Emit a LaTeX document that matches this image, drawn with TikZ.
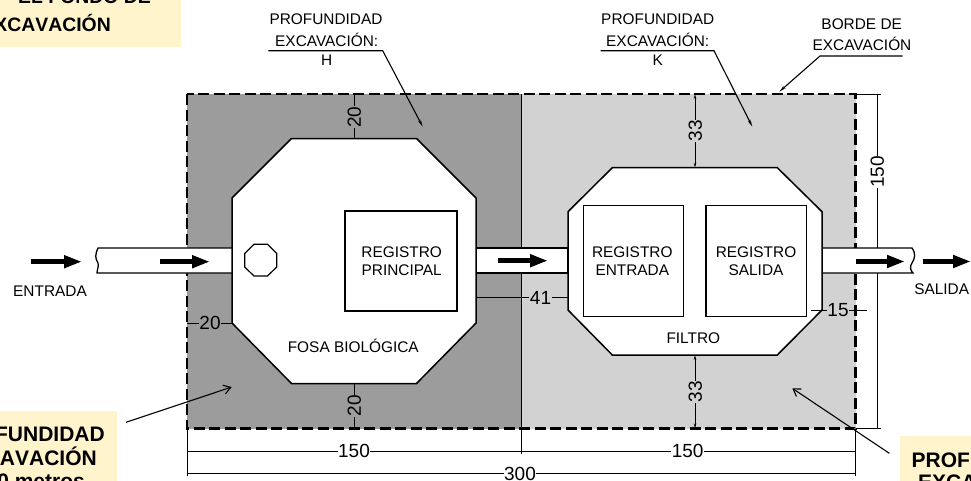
\documentclass[tikz,border=0pt]{standalone}
\usepackage{fontspec}
\setmainfont{Liberation Sans}
\newfontfamily\notefont[Kerning=Off]{Liberation Sans}
\usetikzlibrary{arrows.meta}
\definecolor{pit dark}{HTML}{9C9C9C}
\definecolor{pit light}{HTML}{D2D2D2}
\definecolor{note yellow}{HTML}{FFF4CC}
\tikzset{
% Node styles for the plan: plain labels, dimension figures, registers
plain text/.style={inner sep=0,font=\fontsize{15.4}{18.5}\selectfont,text height=11,text depth=0},
two lines/.style={inner sep=0,align=center,font=\fontsize{15.4}{18.5}\selectfont},
dim text/.style={inner sep=0.6,font=\fontsize{19}{20}\selectfont,text height=13.6,text depth=0},
note text/.style={inner sep=0,font=\notefont\fontsize{21}{24}\selectfont\bfseries},
top note/.style={inner sep=0,font=\notefont\fontsize{19.4}{24}\selectfont\bfseries},
register/.style={draw,line width=1.1,fill=white},
tank/.style={draw,line width=1.5,fill=white},
pipe/.style={draw,line width=1.3,fill=white},
edge line/.style={line width=2.2,dash pattern=on 11pt off 4.5pt},
dim line/.style={line width=1},
leader/.style={line width=1.1},
flow/.style={line width=5.5,-{Triangle[length=18,width=12]}}
}

\begin{document}
\begin{tikzpicture}[x=1pt,y=-1pt]
      \useasboundingbox (0,0) rectangle (971,480);
      \clip (0,0) rectangle (971,480);
      % Yellow notes, cut by the frame
      \fill[note yellow] (0,-5) rectangle (181,47);
      \fill[note yellow] (0,411) rectangle (117,485);
      \fill[note yellow] (900,436) rectangle (976,485);
      \node (noteA1)[top note,anchor=base east] at (151,3) {EL FONDO DE};
      \node (noteA2)[top note,anchor=base east] at (111,31) {EXCAVACIÓN};
      \node (noteB1)[note text,anchor=base east] at (105,441) {PROFUNDIDAD};
      \node (noteB2)[note text,anchor=base east] at (97,465) {EXCAVACIÓN};
      \node (noteB3)[note text,anchor=base east] at (85,488) {0 metros};
      \node (noteC1)[note text,anchor=base west] at (911.5,467) {PROFUNDIDAD};
      \node (noteC2)[note text,anchor=base west] at (918,489) {EXCAVACIÓN};
      % Excavation areas
      \coordinate (tl) at (187,94);
      \coordinate (tm) at (521.5,94);
      \coordinate (tr) at (855.5,94);
      \coordinate (bl) at (187,428.5);
      \coordinate (bm) at (521.5,428.5);
      \coordinate (br) at (855.5,428.5);
      \fill[pit dark] (tl) rectangle (bm);
      \fill[pit light] (tm) rectangle (br);
      \draw[line width=0.8] (tm) -- (bm);
      \draw[edge line] (tl) rectangle (br);
      % Dimensions outside the pit
      \coordinate (ext300l) at (187,476);
      \coordinate (ext300r) at (855.5,476);
      \coordinate (ext150m) at (521.5,454);
      \coordinate (ext150t) at (881,94);
      \coordinate (ext150b) at (881,428.5);
      \draw[dim line] (bl) -- (ext300l);
      \draw[dim line] (br) -- (ext300r);
      \draw[dim line] (bm) -- (ext150m);
      \draw[dim line] (tr) -- (ext150t);
      \draw[dim line] (br) -- (ext150b);
      \coordinate (w1a) at (187,451);
      \coordinate (w1b) at (521.5,451);
      \coordinate (w2b) at (855.5,451);
      \coordinate (w3a) at (187,473.5);
      \coordinate (w3b) at (855.5,473.5);
      \coordinate (h1a) at (877,94);
      \coordinate (h1b) at (877,428.5);
      \draw[dim line] (w1a) -- (w2b);
      \draw[dim line] (w3a) -- (w3b);
      \draw[dim line] (h1a) -- (h1b);
      \node (w1)[dim text,fill=white] at (354,451) {150};
      \node (w2)[dim text,fill=white] at (687.7,451) {150};
      \node (w3)[dim text,fill=white] at (520,473.5) {300};
      \node (h1)[dim text,fill=white,rotate=90] at (877,172) {150};
      % Pipes
      \draw[pipe] (232,248) -- (98,248) .. controls (95,255) and (95,258) .. (98,263)
        .. controls (99,266) and (97,270) .. (97,273) -- (232,273);
      \draw[pipe] (476,248) rectangle (568,273);
      \draw[pipe] (822,248) -- (912,248) .. controls (916,254) and (915,258) .. (912,263)
        .. controls (909,267) and (911,271) .. (913,273) -- (822,273);
      % Tanks
      \draw[tank] (291.5,138.5) -- (416.5,138.5) -- (476,198) -- (476,323) -- (416.5,383.5)
        -- (291.5,383.5) -- (232,323) -- (232,198) -- cycle;
      \draw[tank] (612.3,167.7) -- (777.3,167.7) -- (822,211.7) -- (822,310) -- (777.3,355)
        -- (612.3,355) -- (568,310) -- (568,211.7) -- cycle;
      \draw[line width=1.2] (254,244.3) -- (267.5,244.3) -- (276.7,253.5) -- (276.7,267)
        -- (267.5,276) -- (254,276) -- (244.7,267) -- (244.7,253.5) -- cycle;
      % Registers
      \node (regP)[register,minimum width=112,minimum height=100] at (401,261) {};
      \node (regE)[register,minimum width=100.4,minimum height=111] at (633.5,261.2) {};
      \node (regS)[register,minimum width=100.7,minimum height=111] at (756.3,261.2) {};
      \node (txtP)[two lines] at (401.7,261) {REGISTRO\\PRINCIPAL};
      \node (txtE)[two lines] at (632.3,261) {REGISTRO\\ENTRADA};
      \node (txtS)[two lines] at (756,261) {REGISTRO\\SALIDA};
      \node (fosa)[plain text] at (353.3,347.3) {FOSA BIOLÓGICA};
      \node (filtro)[plain text] at (693.3,337.7) {FILTRO};
      \node (entrada)[plain text] at (50,290.7) {ENTRADA};
      \node (salida)[plain text] at (941.7,289) {SALIDA};
      % Flow arrows
      \coordinate (f1a) at (31,261.7);
      \coordinate (f1b) at (82,261.7);
      \coordinate (f2a) at (160,261.7);
      \coordinate (f2b) at (210,261.7);
      \coordinate (f3a) at (498,260.7);
      \coordinate (f3b) at (548,260.7);
      \coordinate (f4a) at (855.5,261.5);
      \coordinate (f4b) at (905,261.5);
      \coordinate (f5a) at (923,261.5);
      \coordinate (f5b) at (971,261.5);
      \foreach \from/\to in {f1a/f1b,f2a/f2b,f3a/f3b,f4a/f4b,f5a/f5b}
        \draw[flow] (\from) -- (\to);
      % Dimensions inside the pit
      \draw[dim line] (354,94) -- (354,138.5);
      \node (d20t)[dim text,fill=pit dark,rotate=90] at (354,117) {20};
      \draw[dim line] (354,383.5) -- (354,428.5);
      \node (d20b)[dim text,fill=pit dark,rotate=90] at (354,405.7) {20};
      \draw[dim line] (187,323) -- (232,323);
      \node (d20l)[dim text,fill=pit dark] at (210,323) {20};
      \draw[dim line,{Stealth[length=5,width=2.5]}-{Stealth[length=5,width=2.5]}] (695,94) -- (695,167.7);
      \node (d33t)[dim text,fill=pit light,rotate=90] at (695,130.7) {33};
      \draw[dim line,{Stealth[length=5,width=2.5]}-{Stealth[length=5,width=2.5]}] (695,355) -- (695,428.5);
      \node (d33b)[dim text,fill=pit light,rotate=90] at (695,391.7) {33};
      \draw[dim line] (476,297.7) -- (568,297.7);
      \node (d41)[dim text,fill=pit light] at (540.5,297.7) {41};
      \draw[dim line] (811,310) -- (866.5,310);
      \node (d15)[dim text,fill=pit light] at (838,310) {15};
      % Leaders and their labels
      \node (hA)[plain text] at (326,19) {PROFUNDIDAD};
      \node (hB)[plain text] at (326.7,40.7) {EXCAVACIÓN:};
      \node (hC)[plain text] at (326.7,59.5) {H};
      \node (kA)[plain text] at (657.7,19) {PROFUNDIDAD};
      \node (kB)[plain text] at (657.7,40.7) {EXCAVACIÓN:};
      \node (kC)[plain text] at (657.7,59.5) {K};
      \node (bA)[plain text] at (861.7,24) {BORDE DE};
      \node (bB)[plain text] at (862,45) {EXCAVACIÓN};
      \coordinate (hL) at (268.3,50.7);
      \coordinate (hR) at (382.7,50.7);
      \coordinate (hEnd) at (422.7,126.7);
      \coordinate (kL) at (600.7,50.7);
      \coordinate (kR) at (714,50.7);
      \coordinate (kEnd) at (752.3,126.7);
      \coordinate (bL) at (820,56);
      \coordinate (bR) at (902.7,56);
      \coordinate (bEnd) at (779.3,91.7);
      \draw[leader,-{Stealth[length=7,width=3]}] (hL) -- (hR) -- (hEnd);
      \draw[leader,-{Stealth[length=7,width=3]}] (kL) -- (kR) -- (kEnd);
      \draw[leader,-{Stealth[length=7,width=3]}] (bR) -- (bL) -- (bEnd);
      \coordinate (nBs) at (126,422.3);
      \coordinate (nBe) at (231.7,387);
      \coordinate (nCs) at (889.3,453.3);
      \coordinate (nCe) at (792.3,388.3);
      \draw[leader,-{Straight Barb[length=7,width=9]}] (nBs) -- (nBe);
      \draw[leader,-{Straight Barb[length=7,width=9]}] (nCs) -- (nCe);
    \end{tikzpicture}
\end{document}
